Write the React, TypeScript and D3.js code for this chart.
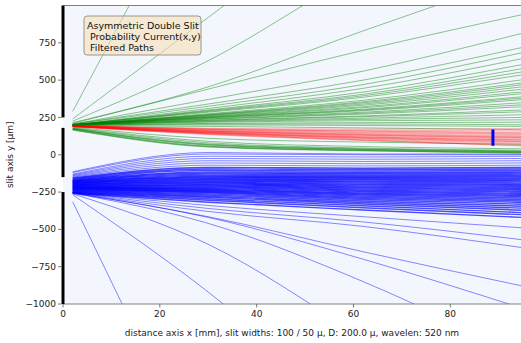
import React from 'react';
import * as d3 from 'd3';

const W = 521;
const H = 343;
const FONT = '"DejaVu Sans", sans-serif';

// x positions (mm) at which every path below is sampled
const sampleX = [2, 30, 62, 95];

// y (µm) of each path at sampleX
const greenPaths = [
  [290, 2000, 4000, 6000],
  [240, 920, 1700, 2500],
  [225, 630, 1225, 1650],
  [215, 455, 830, 1200],
  [210, 440, 700, 940],
  [205, 370, 560, 815],
  [205, 340, 500, 720],
  [205, 325, 470, 685],
  [200, 310, 445, 645],
  [200, 300, 420, 605],
  [200, 295, 405, 578],
  [200, 290, 395, 556],
  [200, 285, 385, 536],
  [200, 275, 365, 503],
  [200, 270, 355, 482],
  [200, 268, 348, 470],
  [200, 265, 340, 456],
  [200, 262, 332, 440],
  [200, 258, 322, 422],
  [200, 255, 315, 410],
  [200, 252, 305, 389],
  [200, 250, 300, 380],
  [200, 248, 295, 369],
  [200, 244, 285, 349],
  [200, 240, 278, 335],
  [200, 238, 272, 322],
  [200, 232, 260, 300],
  [200, 230, 255, 288],
  [200, 226, 245, 268],
  [200, 222, 237, 250],
  [200, 218, 228, 234],
  [198, 210, 215, 218],
  [198, 206, 206, 201],
  [196, 200, 196, 190],
  [195, 190, 180, 168],
  [185, 110, 85, 70],
  [180, 90, 55, 40],
  [178, 80, 45, 30],
  [175, 72, 40, 25],
  [172, 65, 35, 20],
  [170, 58, 30, 16],
  [165, 52, 26, 12],
  [168, 55, 28, 14],
  [174, 68, 36, 22],
];

const redPaths = [
  [195, 175, 165, 160],
  [195, 170, 160, 150],
  [194, 168, 152, 140],
  [194, 165, 148, 135],
  [193, 162, 142, 128],
  [193, 160, 138, 122],
  [192, 158, 135, 118],
  [192, 155, 130, 112],
  [191, 152, 125, 105],
  [191, 150, 120, 98],
  [190, 148, 115, 92],
  [190, 145, 110, 85],
  [189, 142, 105, 78],
  [189, 140, 100, 70],
  [188, 135, 95, 62],
  [196, 178, 172, 175],
  [195, 172, 158, 145],
  [193, 158, 132, 115],
  [191, 150, 118, 100],
  [190, 146, 112, 88],
  [188, 138, 98, 58],
];

// dense blue bundle from the lower slit
const blueCore = [
  [-155, -85, -90, -85],
  [-160, -95, -100, -95],
  [-165, -105, -110, -105],
  [-170, -115, -118, -115],
  [-172, -122, -125, -122],
  [-175, -130, -132, -130],
  [-178, -138, -140, -138],
  [-180, -145, -147, -145],
  [-182, -150, -152, -152],
  [-185, -155, -158, -160],
  [-188, -160, -165, -168],
  [-190, -165, -170, -175],
  [-192, -170, -177, -182],
  [-195, -175, -183, -190],
  [-197, -180, -190, -198],
  [-200, -185, -197, -205],
  [-202, -190, -203, -213],
  [-205, -195, -210, -220],
  [-208, -200, -217, -228],
  [-210, -205, -223, -235],
  [-212, -210, -230, -243],
  [-215, -215, -237, -250],
  [-218, -220, -243, -258],
  [-220, -225, -250, -265],
  [-222, -230, -257, -273],
  [-225, -235, -263, -280],
  [-228, -240, -270, -290],
  [-230, -245, -277, -300],
  [-233, -250, -285, -310],
  [-236, -255, -292, -320],
  [-240, -262, -300, -332],
  [-243, -270, -310, -345],
  [-246, -278, -320, -358],
  [-250, -285, -330, -372],
  [-252, -295, -342, -388],
  [-255, -305, -355, -402],
  [-258, -318, -370, -420],
];

// sparse blue paths above and below the bundle
const blueOuter = [
  [-114, 15, 5, 5],
  [-120, 5, 0, 0],
  [-130, -10, -15, -10],
  [-135, -25, -30, -25],
  [-140, -40, -45, -40],
  [-145, -55, -60, -55],
  [-150, -70, -75, -70],
  [-252, -340, -415, -490],
  [-253, -360, -450, -570],
  [-254, -380, -480, -623],
  [-256, -415, -650, -880],
  [-257, -420, -700, -1030],
  [-258, -460, -850, -1350],
  [-262, -600, -1225, -1900],
  [-268, -920, -1800, -2700],
  [-315, -2200, -4400, -6600],
];

// black wall at x = 0 with the two slits left open
const wallSegments = [
  [250, 1000],
  [-150, 180],
  [-1000, -250],
];

const markerX = 88.8;
const markerY = [60, 170];

const xTicks = [0, 20, 40, 60, 80];
const yTicks = [-1000, -750, -500, -250, 0, 250, 500, 750];

const legendLines = ['Asymmetric Double Slit', ' Probability Current(x,y)', ' Filtered Paths'];

const xLabel = 'distance axis x [mm], slit widths: 100 / 50 µ, D: 200.0 µ, wavelen: 520 nm';
const yLabel = 'slit axis y [µm]';

const fmt = (v: number) => String(v).replace('-', '\u2212');

export default function App() {
  const left = 63;
  const right = 521;
  const top = 5.5;
  const bottom = 304;

  const x = d3.scaleLinear().domain([0, 94.6]).range([left, right]);
  const y = d3.scaleLinear().domain([-1000, 1000]).range([bottom, top]);

  const line = d3
    .line<number>()
    .x((_, i) => x(sampleX[i]))
    .y(d => y(d))
    .curve(d3.curveMonotoneX);

  const drawGroup = (paths: number[][], color: string, opacity: number, width: number, key: string) => (
    <g key={key} fill="none" stroke={color} strokeOpacity={opacity} strokeWidth={width}>
      {paths.map((p, i) => (
        <path key={i} d={line(p) || ''} />
      ))}
    </g>
  );

  return (
    <svg
      width={W}
      height={H}
      style={{ position: 'absolute', left: 0, top: 0, background: '#fff' }}
      fontFamily={FONT}
    >
      <defs>
        <clipPath id="plot">
          <rect x={left} y={top} width={right - left} height={bottom - top} />
        </clipPath>
      </defs>

      <rect x={left} y={top} width={right - left} height={bottom - top} fill="#f3f7fd" />

      <g clipPath="url(#plot)">
        {drawGroup(greenPaths, '#008000', 0.5, 0.9, 'g')}
        {drawGroup(blueOuter, '#0000ff', 0.55, 0.85, 'bo')}
        {drawGroup(blueCore, '#0000ff', 0.7, 1.4, 'bc')}
        {drawGroup(redPaths, '#ff0000', 0.32, 0.9, 'r')}
        <line
          x1={x(markerX)}
          x2={x(markerX)}
          y1={y(markerY[0])}
          y2={y(markerY[1])}
          stroke="#0000ff"
          strokeWidth={3}
        />
      </g>

      {/* spines */}
      <line x1={left} x2={right} y1={top} y2={top} stroke="#808080" strokeWidth={1} />
      <line x1={left} x2={right} y1={bottom} y2={bottom} stroke="#808080" strokeWidth={1} />
      {wallSegments.map(([a, b], i) => (
        <line key={i} x1={left} x2={left} y1={y(a)} y2={y(b)} stroke="#000" strokeWidth={3} />
      ))}

      {/* x axis */}
      {xTicks.map(t => (
        <g key={t} transform={`translate(${x(t)},${bottom})`}>
          <line y1={0} y2={3.5} stroke="#555" strokeWidth={0.8} />
          <text y={13} textAnchor="middle" fontSize={9} fill="#222">
            {fmt(t)}
          </text>
        </g>
      ))}
      <text x={(left + right) / 2} y={336} textAnchor="middle" fontSize={9} fill="#222">
        {xLabel}
      </text>

      {/* y axis */}
      {yTicks.map(t => (
        <g key={t} transform={`translate(${left - 1.5},${y(t)})`}>
          <line x1={0} x2={-3.5} stroke="#555" strokeWidth={0.8} />
          <text x={-5.5} dy="0.34em" textAnchor="end" fontSize={9} fill="#222">
            {fmt(t)}
          </text>
        </g>
      ))}
      <text
        transform={`translate(13,${(top + bottom) / 2}) rotate(-90)`}
        textAnchor="middle"
        fontSize={9}
        fill="#222"
      >
        {yLabel}
      </text>

      {/* legend box */}
      <rect
        x={84}
        y={16}
        width={117}
        height={39}
        rx={3}
        fill="wheat"
        fillOpacity={0.55}
        stroke="#9a958c"
        strokeWidth={1}
      />
      {legendLines.map((s, i) => (
        <text key={i} x={87} y={28.5 + i * 11} fontSize={9.5} fill="#111" style={{ whiteSpace: 'pre' }}>
          {s}
        </text>
      ))}
    </svg>
  );
}
